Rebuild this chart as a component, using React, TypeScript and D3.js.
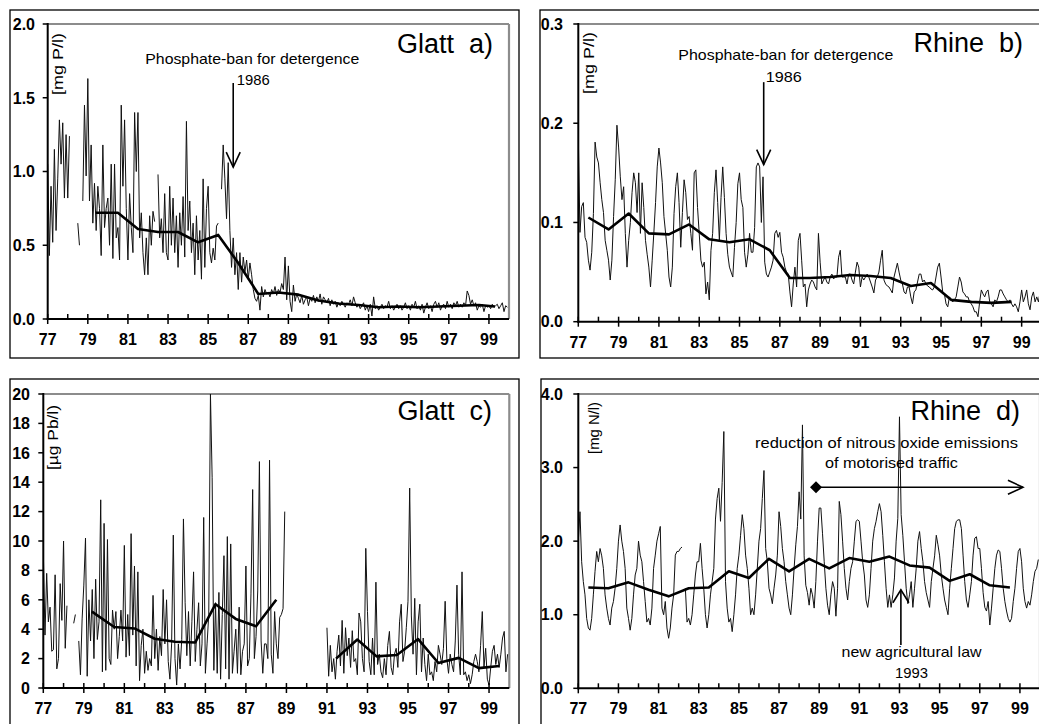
import React from 'react';
import * as d3 from 'd3';

const FONT = '"Liberation Sans", Arial, Helvetica, sans-serif';

type Row = (number | null)[];
type Pt = { t: number; v: number | null };
type Scale = d3.ScaleLinear<number, number>;

// one row of 12 monthly values per year, starting 1977
const START_YEAR = 77;
const YEAR_TICKS = d3.range(77, 100);
const YEAR_LABELS = ['77', '79', '81', '83', '85', '87', '89', '91', '93', '95', '97', '99'];

// a) Glatt, phosphorus [mg P/l]
const glattP: Row[] = [
  [1.05, 0.43, 0.9, 0.52, 1.15, 0.6, 0.95, 1.35, 1.05, 1.33, 0.82, 1.25],
  [0.82, 1.24, null, null, null, null, 0.65, 0.5, null, 0.8, 1.45, 0.97],
  [1.63, 0.8, 1.18, 0.65, 0.92, 0.6, 0.9, 0.75, 0.43, 1.18, 0.62, 0.75],
  [0.82, 0.5, 1.05, 0.41, 1.05, 0.55, 0.62, 0.4, 1.45, 0.9, 1.35, 0.75],
  [0.4, 0.85, 0.62, 0.45, 1.4, 1.0, 1.4, 0.55, 0.72, 0.45, 0.3, 0.55],
  [0.3, 0.7, 0.5, 0.73, 0.66, null, 0.98, 0.55, 0.68, 0.45, 0.85, 0.45],
  [0.4, 0.9, 0.5, 0.82, 0.45, 0.7, 0.35, 0.72, 0.5, 0.83, 0.42, 1.34],
  [0.6, 0.8, 0.45, 0.65, 0.3, 0.7, 0.4, 0.6, 0.27, 0.95, 0.35, 0.75],
  [0.9, 0.45, 0.38, 0.48, 0.4, 0.63, 0.65, null, 0.88, 1.18, 0.95, 0.68],
  [1.06, 0.6, 0.35, 0.55, 0.3, 0.45, 0.2, 0.45, 0.25, 0.42, 0.32, 0.4],
  [0.27, 0.38, 0.3, 0.2, 0.14, 0.12, 0.16, 0.06, 0.22, 0.15, 0.2, 0.17],
  [0.18, 0.15, 0.2, 0.17, 0.22, 0.16, 0.2, 0.18, 0.24, 0.2, 0.42, 0.13],
  [0.36, 0.12, 0.05, 0.23, 0.12, 0.17, 0.14, 0.11, 0.16, 0.1, 0.13, 0.15],
  [0.09, 0.14, 0.12, 0.16, 0.11, 0.15, 0.12, 0.17, 0.1, 0.15, 0.13, 0.11],
  [0.14, 0.09, 0.13, 0.1, 0.12, 0.08, 0.11, 0.09, 0.12, 0.1, 0.08, 0.11],
  [0.1, 0.13, 0.09, 0.15, 0.11, 0.08, 0.1, 0.07, 0.09, 0.11, 0.06, 0.09],
  [0.05, 0.1, 0.02, 0.15, 0.07, 0.09, 0.06, 0.08, 0.1, 0.07, 0.09, 0.08],
  [0.12, 0.07, 0.09, 0.06, 0.08, 0.1, 0.07, 0.09, 0.06, 0.08, 0.11, 0.07],
  [0.09, 0.06, 0.1, 0.08, 0.12, 0.07, 0.09, 0.06, 0.1, 0.04, 0.08, 0.11],
  [0.07, 0.09, 0.05, 0.1, 0.12, 0.08, 0.11, 0.06, 0.09, 0.1, 0.07, 0.12],
  [0.08, 0.1, 0.07, 0.11, 0.09, 0.12, 0.08, 0.1, 0.08, 0.11, 0.09, 0.19],
  [0.16, 0.1, 0.13, 0.09, 0.11, 0.06, 0.09, 0.08, 0.1, 0.05, 0.09, 0.08],
  [0.09, 0.07, 0.1, 0.08, 0.09, 0.1, 0.07, 0.09, 0.11, 0.05, 0.09, 0.08],
];
const glattPTrendYears = [79.4, 80.5, 81.5, 82.5, 83.5, 84.5, 85.5, 86.5, 87.5, 88.5, 89.5, 90.5, 91.5, 92.5, 93.5, 94.5, 95.5, 96.5, 97.5, 98.5, 99.3];
const glattPTrendValues = [0.72, 0.72, 0.61, 0.59, 0.59, 0.52, 0.57, 0.38, 0.17, 0.18, 0.165, 0.125, 0.105, 0.095, 0.08, 0.085, 0.08, 0.085, 0.09, 0.095, 0.085];

// b) Rhine, phosphorus [mg P/l]
const rhineP: Row[] = [
  [0.186, 0.09, 0.116, 0.12, 0.085, 0.08, 0.062, 0.052, 0.07, 0.109, 0.181, 0.166],
  [0.16, 0.14, 0.123, 0.11, 0.082, 0.072, 0.062, 0.042, 0.062, 0.106, 0.143, 0.198],
  [0.176, 0.146, 0.123, 0.136, 0.089, 0.055, 0.082, 0.1, 0.13, 0.15, 0.14, 0.11],
  [0.15, 0.089, 0.14, 0.115, 0.082, 0.068, 0.055, 0.035, 0.062, 0.09, 0.12, 0.156],
  [0.175, 0.16, 0.14, 0.106, 0.089, 0.072, 0.045, 0.035, 0.055, 0.109, 0.136, 0.15],
  [0.12, 0.075, 0.11, 0.143, 0.13, 0.103, 0.106, 0.089, 0.072, 0.15, 0.153, 0.115],
  [0.089, 0.062, 0.055, 0.06, 0.028, 0.04, 0.022, 0.072, 0.089, 0.13, 0.153, 0.12],
  [0.082, 0.125, 0.156, 0.125, 0.089, 0.068, 0.055, 0.05, 0.045, 0.075, 0.1, 0.139],
  [0.15, 0.123, 0.115, 0.07, 0.055, 0.068, 0.089, 0.07, 0.07, 0.095, 0.156, 0.16],
  [0.156, 0.1, 0.146, 0.06, 0.048, 0.045, 0.05, 0.055, 0.062, 0.089, 0.092, 0.085],
  [0.09, 0.07, 0.065, 0.055, 0.05, 0.048, 0.03, 0.015, 0.038, 0.055, 0.035, 0.082],
  [0.089, 0.062, 0.035, 0.038, 0.015, 0.032, 0.038, 0.042, 0.04, 0.035, 0.032, 0.089],
  [0.06, 0.038, 0.042, 0.045, 0.04, 0.038, 0.045, 0.048, 0.043, 0.045, 0.045, 0.065],
  [0.072, 0.045, 0.045, 0.045, 0.038, 0.048, 0.048, 0.042, 0.038, 0.05, 0.06, 0.055],
  [0.035, 0.045, 0.042, 0.045, 0.048, 0.045, 0.04, 0.035, 0.029, 0.042, 0.045, 0.05],
  [0.062, 0.072, 0.042, 0.038, 0.036, 0.035, 0.032, 0.029, 0.045, 0.052, 0.059, 0.05],
  [0.042, 0.038, 0.03, 0.028, 0.035, 0.035, 0.025, 0.018, 0.03, 0.032, 0.04, 0.048],
  [0.048, 0.04, 0.042, 0.038, 0.036, 0.035, 0.033, 0.032, 0.035, 0.045, 0.055, 0.059],
  [0.045, 0.03, 0.028, 0.018, 0.015, 0.025, 0.022, 0.02, 0.022, 0.025, 0.035, 0.045],
  [0.04, 0.03, 0.028, 0.025, 0.025, 0.02, 0.018, 0.015, 0.01, 0.01, 0.005, 0.02],
  [0.032, 0.028, 0.025, 0.03, 0.032, 0.02, 0.018, 0.015, 0.022, 0.02, 0.025, 0.032],
  [0.032, 0.028, 0.025, 0.022, 0.02, 0.022, 0.018, 0.015, 0.018, 0.015, 0.01, 0.02],
  [0.032, 0.02, 0.025, 0.032, 0.018, 0.012, 0.025, 0.03, 0.02, 0.025, 0.02, 0.03],
];
const rhinePTrendYears = d3.range(77.5, 99, 1);
const rhinePTrendValues = [0.105, 0.093, 0.109, 0.089, 0.088, 0.098, 0.083, 0.08, 0.083, 0.072, 0.044, 0.044, 0.045, 0.047, 0.046, 0.044, 0.036, 0.039, 0.022, 0.02, 0.019, 0.02];

// c) Glatt, lead [µg Pb/l]
const glattPb: Row[] = [
  [9.3, 3.6, 7.8, 4.5, 5.5, 2.5, 2.6, 7.7, 1.3, 2.0, 7.1, 4.6],
  [10.0, 2.7, 5.6, null, null, null, 4.4, 5.0, null, 3.2, 0.9, 4.7],
  [7.0, 10.2, 0.8, 6.0, 3.2, 6.7, 2.0, 7.4, 3.3, 4.5, 12.8, 1.1],
  [11.2, 1.2, 10.1, 2.0, 1.6, 5.3, 4.0, 5.2, 2.0, 3.5, 5.3, 3.2],
  [9.7, 2.1, 5.0, 2.2, 10.5, 3.6, 8.3, 1.5, 7.9, 0.5, 2.9, 4.0],
  [1.0, 2.5, 1.2, 2.0, 1.5, 6.3, 2.0, 4.0, 1.2, 3.5, 2.2, 6.7],
  [3.0, 6.0, 1.8, 0.6, 3.0, 10.4, 2.0, 0.2, 3.0, 1.3, 3.3, 11.5],
  [5.8, 2.2, 5.2, 1.5, 4.5, 7.9, 1.8, 4.0, 5.8, 1.5, 3.0, 11.6],
  [1.0, 3.0, 5.0, 20.0, 14.3, 1.2, 5.8, 1.0, 6.5, 0.6, 5.0, 9.0],
  [1.3, 10.3, 0.6, 9.8, 1.0, 2.5, 4.0, 1.0, 5.5, 0.9, 2.5, 3.0],
  [8.3, 1.5, 2.0, 6.4, 13.5, 2.0, 3.5, 6.6, 15.4, 3.2, 1.0, 3.0],
  [3.0, 2.0, 15.5, 2.3, 1.0, 5.2, 3.0, 2.0, 4.8, 5.0, 5.4, 12.0],
  [null, null, null, null, null, null, null, null, null, null, null, null],
  [null, null, null, null, null, null, null, null, null, null, null, null],
  [4.1, 0.8, 2.9, 1.1, 2.0, 0.6, 2.5, 3.6, 1.5, 4.6, 1.0, 4.1],
  [2.2, 3.4, 1.4, 3.9, 1.8, 2.0, 0.9, 5.1, 4.5, 2.0, 1.1, 9.5],
  [5.2, 1.8, 0.9, 3.4, 0.9, 7.2, 1.6, 2.3, 1.1, 0.7, 2.0, 0.9],
  [2.9, 3.85, 1.4, 0.9, 2.3, 2.7, 1.4, 4.5, 5.7, 1.8, 2.5, 4.1],
  [5.9, 13.6, 4.9, 2.3, 6.1, 0.9, 4.5, 5.7, 1.1, 3.4, 1.6, 0.5],
  [2.3, 0.9, 1.1, 0.5, 1.8, 1.1, 2.9, 2.3, 1.6, 2.7, 5.9, 2.0],
  [1.0, 2.3, 1.6, 1.1, 3.2, 7.0, 2.3, 0.9, 7.9, 0.9, 1.1, 0.5],
  [0.9, 0.3, 0.9, 1.8, 2.3, 1.8, 1.1, 2.9, 5.2, 1.4, 2.7, 0.6],
  [0.2, 1.4, 2.5, 2.9, 1.6, 2.3, 1.4, 2.3, 3.4, 3.85, 1.1, 2.3],
];
const glattPbTrend1Years = [79.4, 80.5, 81.5, 82.5, 83.5, 84.5, 85.5, 86.5, 87.5, 88.5];
const glattPbTrend1Values = [5.2, 4.15, 4.05, 3.35, 3.15, 3.1, 5.7, 4.7, 4.2, 6.0];
const glattPbTrend2Years = [91.45, 92.5, 93.45, 94.45, 95.5, 96.5, 97.5, 98.5, 99.5];
const glattPbTrend2Values = [2.0, 3.3, 2.15, 2.25, 3.33, 1.7, 2.05, 1.35, 1.5];

// d) Rhine, nitrogen [mg N/l]
const rhineN: Row[] = [
  [2.0, 2.4, 1.72, 1.45, 1.27, 0.95, 0.82, 0.79, 0.95, 1.27, 1.59, 1.86],
  [1.72, 1.9, 1.8, 1.63, 1.27, 1.09, 0.95, 0.86, 1.09, 1.18, 1.36, 1.63],
  [2.0, 2.22, 2.0, 1.86, 1.63, 1.09, 0.95, 0.79, 0.95, 1.27, 1.54, 1.63],
  [2.0, 1.81, 1.72, 1.45, 1.18, 0.9, 0.95, 0.86, 1.09, 1.63, 1.81, 2.0],
  [2.1, 2.2, 1.09, 1.0, 1.18, 0.82, 0.68, 0.82, 1.09, 1.27, 1.81, 1.86],
  [1.86, 1.9, 1.92, null, 1.36, 0.9, 0.95, 0.86, 1.0, 1.27, 1.54, 1.72],
  [1.72, 1.97, 1.63, 1.36, 1.0, 0.82, 1.0, 1.27, 1.45, 1.63, 2.3, 2.58],
  [2.72, 2.27, 2.8, 3.49, 1.45, 1.09, 0.9, 0.95, 0.77, 1.0, 1.27, 1.63],
  [1.81, 2.08, 2.36, 2.17, 1.81, 1.63, 1.36, 1.0, 1.09, 1.0, 1.27, 1.63],
  [2.0, 2.17, 2.58, 2.96, 1.9, 1.72, 1.36, 1.27, 1.15, 1.36, 1.54, 1.81],
  [2.4, 2.2, 1.9, 1.72, 1.45, 1.27, 1.09, 1.0, 1.27, 1.63, 1.95, 2.2],
  [2.67, 2.3, 3.58, 1.8, 1.4, 1.3, 1.13, 1.36, 1.27, 1.09, 1.45, 2.0],
  [2.45, 2.45, 2.1, 1.72, 1.36, 1.13, 1.0, 1.27, 1.45, 1.36, 0.98, 1.36],
  [2.54, 2.36, 2.0, 1.63, 1.36, 1.2, 1.45, 1.63, 1.72, 2.0, 2.27, 2.29],
  [2.27, 2.0, 1.72, 1.54, 1.2, 1.1, 1.27, 1.63, 2.0, 2.17, 2.27, 2.4],
  [2.51, 2.4, 2.08, 1.72, 1.36, 1.1, 1.27, 1.1, 1.27, 1.5, 2.0, 2.31],
  [3.69, 2.36, 2.08, 1.72, 1.36, 1.15, 1.27, 1.45, 1.1, 1.36, 1.63, 2.0],
  [2.13, 1.9, 1.72, 1.45, 1.3, 1.2, 1.1, 1.45, 1.63, 1.8, 2.08, 1.95],
  [1.8, 1.54, 1.36, 1.2, 1.1, 1.0, 1.36, 1.63, 1.9, 2.17, 2.27, 2.29],
  [2.29, 2.17, 1.81, 1.45, 1.2, 1.1, 1.27, 1.45, 1.81, 2.04, 2.06, 1.9],
  [1.9, 1.63, 1.3, 1.1, 1.05, 1.18, 0.86, 1.09, 1.36, 1.63, 1.81, 1.88],
  [1.86, 1.63, 1.36, 1.18, 1.05, 0.95, 0.9, 0.95, 1.18, 1.36, 1.63, 1.86],
  [1.9, 1.72, 1.36, 1.18, 1.09, 1.18, 1.13, 1.27, 1.45, 1.59, 1.63, 1.75],
];
const rhineNTrendYears = d3.range(77.5, 99, 1);
const rhineNTrendValues = [1.37, 1.36, 1.44, 1.34, 1.25, 1.36, 1.37, 1.59, 1.5, 1.76, 1.59, 1.76, 1.63, 1.77, 1.72, 1.79, 1.67, 1.64, 1.46, 1.55, 1.4, 1.37];

const toPoints = (rows: Row[]): Pt[] =>
  rows.flatMap((row, i) => row.map((v, m) => ({ t: START_YEAR + i + m / 12, v })));

interface PanelProps {
  id: string;
  frame: { x: number; y: number; w: number; h: number };
  plot: { left: number; top: number; right: number; bottom: number };
  yMax: number;
  yTicks: number[];
  yFmt: (v: number) => string;
  labelRight: number;
  unit: string;
  unitX: number;
  unitTop: number;
  unitLen: number;
  title: string;
  titleRight: number;
  titleBaseline: number;
  rows: Row[];
  trends: { years: number[]; values: number[] }[];
  children?: (x: Scale, y: Scale) => React.ReactNode;
}

function Panel(p: PanelProps) {
  const x = d3.scaleLinear().domain([77, 100]).range([p.plot.left, p.plot.right]);
  const y = d3.scaleLinear().domain([0, p.yMax]).range([p.plot.bottom, p.plot.top]);
  const raw = d3
    .line<Pt>()
    .defined((d) => d.v != null)
    .x((d) => x(d.t))
    .y((d) => y(d.v as number))(toPoints(p.rows)) || '';
  const trend = (t: { years: number[]; values: number[] }) =>
    d3
      .line<number>()
      .x((d) => x(d))
      .y((_, i) => y(t.values[i]))(t.years) || '';
  const { left, top, right, bottom } = p.plot;
  return (
    <g fontFamily={FONT}>
      <rect x={p.frame.x} y={p.frame.y} width={p.frame.w} height={p.frame.h} fill="none" stroke="#000" strokeWidth={1.3} />
      <clipPath id={p.id}>
        <rect x={left} y={top - 1} width={right - left} height={bottom - top + 1} />
      </clipPath>
      <line x1={left} x2={right} y1={top} y2={top} stroke="#8c8c8c" strokeWidth={2.2} />
      <line x1={right} x2={right} y1={top} y2={bottom} stroke="#8c8c8c" strokeWidth={2.2} />
      <g clipPath={`url(#${p.id})`}>
        <path d={raw} fill="none" stroke="#111" strokeWidth={1} strokeLinejoin="round" />
        {p.trends.map((t, i) => (
          <path key={i} d={trend(t)} fill="none" stroke="#000" strokeWidth={2.6} strokeLinejoin="round" />
        ))}
      </g>
      <line x1={left} x2={left} y1={top - 1} y2={bottom + 1} stroke="#000" strokeWidth={2} />
      <line x1={left - 1} x2={right} y1={bottom} y2={bottom} stroke="#000" strokeWidth={2} />
      {p.yTicks.map((v) => (
        <g key={v}>
          <line x1={left - 5} x2={left} y1={y(v)} y2={y(v)} stroke="#000" strokeWidth={1.5} />
          <text x={p.labelRight} y={y(v)} dy="0.36em" textAnchor="end" fontSize={16} fontWeight="bold">
            {p.yFmt(v)}
          </text>
        </g>
      ))}
      {YEAR_TICKS.map((yr) => {
        const major = (yr - 77) % 2 === 0;
        return (
          <line key={yr} x1={x(yr)} x2={x(yr)} y1={bottom - 5} y2={major ? bottom + 5 : bottom} stroke="#000" strokeWidth={1.5} />
        );
      })}
      {YEAR_LABELS.map((lab) => (
        <text key={lab} x={x(+lab)} y={bottom + 26} textAnchor="middle" fontSize={16} fontWeight="bold">
          {lab}
        </text>
      ))}
      <text
        transform={`translate(${p.unitX},${p.unitTop}) rotate(-90)`}
        textAnchor="end"
        fontSize={15}
        textLength={p.unitLen}
        lengthAdjust="spacingAndGlyphs"
      >
        {p.unit}
      </text>
      <text x={p.titleRight} y={p.titleBaseline} textAnchor="end" fontSize={27} style={{ whiteSpace: 'pre' }}>
        {p.title}
      </text>
      {p.children && p.children(x, y)}
    </g>
  );
}

const Note = ({ x, y, w, children }: { x: number; y: number; w: number; children: string }) => (
  <text x={x - w / 2} y={y} fontSize={15} textLength={w} lengthAdjust="spacingAndGlyphs">
    {children}
  </text>
);

const DownArrow = ({ x, y1, y2 }: { x: number; y1: number; y2: number }) => (
  <g stroke="#000" strokeWidth={1.6} fill="none">
    <line x1={x} x2={x} y1={y1} y2={y2} />
    <polyline points={`${x - 7},${y2 - 15} ${x},${y2} ${x + 7},${y2 - 15}`} />
  </g>
);

const fmt1 = d3.format('.1f');
const fmt0 = d3.format('d');

export default function App() {
  return (
    <svg width={1039} height={724} style={{ position: 'absolute', left: 0, top: 0, background: '#fff' }}>
      <rect width={1039} height={724} fill="#fff" />
      <Panel
        id="clipA"
        frame={{ x: 10, y: 10, w: 509, h: 348 }}
        plot={{ left: 47.7, top: 24, right: 509, bottom: 319 }}
        yMax={2}
        yTicks={[0, 0.5, 1, 1.5, 2]}
        yFmt={fmt1}
        labelRight={35}
        unit="[mg P/l)"
        unitX={62.5}
        unitTop={33}
        unitLen={62}
        title="Glatt  a)"
        titleRight={493}
        titleBaseline={53}
        rows={glattP}
        trends={[{ years: glattPTrendYears, values: glattPTrendValues }]}
      >
        {(x, y) => (
          <g>
            <Note x={x(87.2)} y={y(1.729)} w={214}>Phosphate-ban for detergence</Note>
            <Note x={x(87.25)} y={y(1.586)} w={33}>1986</Note>
            <DownArrow x={x(86.25)} y1={y(1.6)} y2={y(1.03)} />
          </g>
        )}
      </Panel>
      <Panel
        id="clipB"
        frame={{ x: 540, y: 10, w: 520, h: 348 }}
        plot={{ left: 578.3, top: 24, right: 1041.8, bottom: 321.7 }}
        yMax={0.3}
        yTicks={[0, 0.1, 0.2, 0.3]}
        yFmt={fmt1}
        labelRight={563}
        unit="[mg P/l)"
        unitX={594}
        unitTop={32}
        unitLen={62}
        title="Rhine  b)"
        titleRight={1023}
        titleBaseline={52}
        rows={rhineP}
        trends={[{ years: rhinePTrendYears, values: rhinePTrendValues }]}
      >
        {(x, y) => (
          <g>
            <Note x={x(87.3)} y={y(0.2633)} w={215}>Phosphate-ban for detergence</Note>
            <Note x={x(87.2)} y={y(0.2411)} w={36}>1986</Note>
            <DownArrow x={x(86.2)} y1={y(0.2414)} y2={y(0.1583)} />
          </g>
        )}
      </Panel>
      <Panel
        id="clipC"
        frame={{ x: 10, y: 379, w: 509, h: 360 }}
        plot={{ left: 43.3, top: 394, right: 509.3, bottom: 688 }}
        yMax={20}
        yTicks={d3.range(0, 21, 2)}
        yFmt={fmt0}
        labelRight={30}
        unit="[µg Pb/l)"
        unitX={57.5}
        unitTop={405}
        unitLen={65}
        title="Glatt  c)"
        titleRight={492}
        titleBaseline={420}
        rows={glattPb}
        trends={[
          { years: glattPbTrend1Years, values: glattPbTrend1Values },
          { years: glattPbTrend2Years, values: glattPbTrend2Values },
        ]}
      />
      <Panel
        id="clipD"
        frame={{ x: 541, y: 379, w: 520, h: 360 }}
        plot={{ left: 578.3, top: 394, right: 1040, bottom: 688.3 }}
        yMax={4}
        yTicks={[0, 1, 2, 3, 4]}
        yFmt={fmt1}
        labelRight={563}
        unit="[mg N/l)"
        unitX={598.5}
        unitTop={402}
        unitLen={52}
        title="Rhine  d)"
        titleRight={1020}
        titleBaseline={420}
        rows={rhineN}
        trends={[{ years: rhineNTrendYears, values: rhineNTrendValues }]}
      >
        {(x, y) => (
          <g>
            <Note x={x(92.35)} y={y(3.262)} w={263}>reduction of nitrous oxide emissions</Note>
            <Note x={x(92.6)} y={y(2.99)} w={133}>of motorised traffic</Note>
            <path
              d={`M${x(88.84) - 6},${y(2.732)} L${x(88.84)},${y(2.732) - 6} L${x(88.84) + 6},${y(2.732)} L${x(88.84)},${y(2.732) + 6} Z`}
              fill="#000"
            />
            <g stroke="#000" strokeWidth={1.6} fill="none">
              <line x1={x(88.84)} x2={x(99.15)} y1={y(2.732)} y2={y(2.732)} />
              <polyline
                points={`${x(99.15) - 15},${y(2.732) - 7} ${x(99.15)},${y(2.732)} ${x(99.15) - 15},${y(2.732) + 7}`}
              />
              <line x1={x(93.07)} x2={x(93.07)} y1={y(0.59)} y2={y(1.34)} />
              <polyline points={`${x(93.07) - 8},${y(1.34) + 13} ${x(93.07)},${y(1.34)} ${x(93.07) + 8},${y(1.34) + 13}`} />
            </g>
            <Note x={x(93.6)} y={y(0.43)} w={140}>new agricultural law</Note>
            <Note x={x(93.6)} y={y(0.136)} w={33}>1993</Note>
          </g>
        )}
      </Panel>
    </svg>
  );
}
